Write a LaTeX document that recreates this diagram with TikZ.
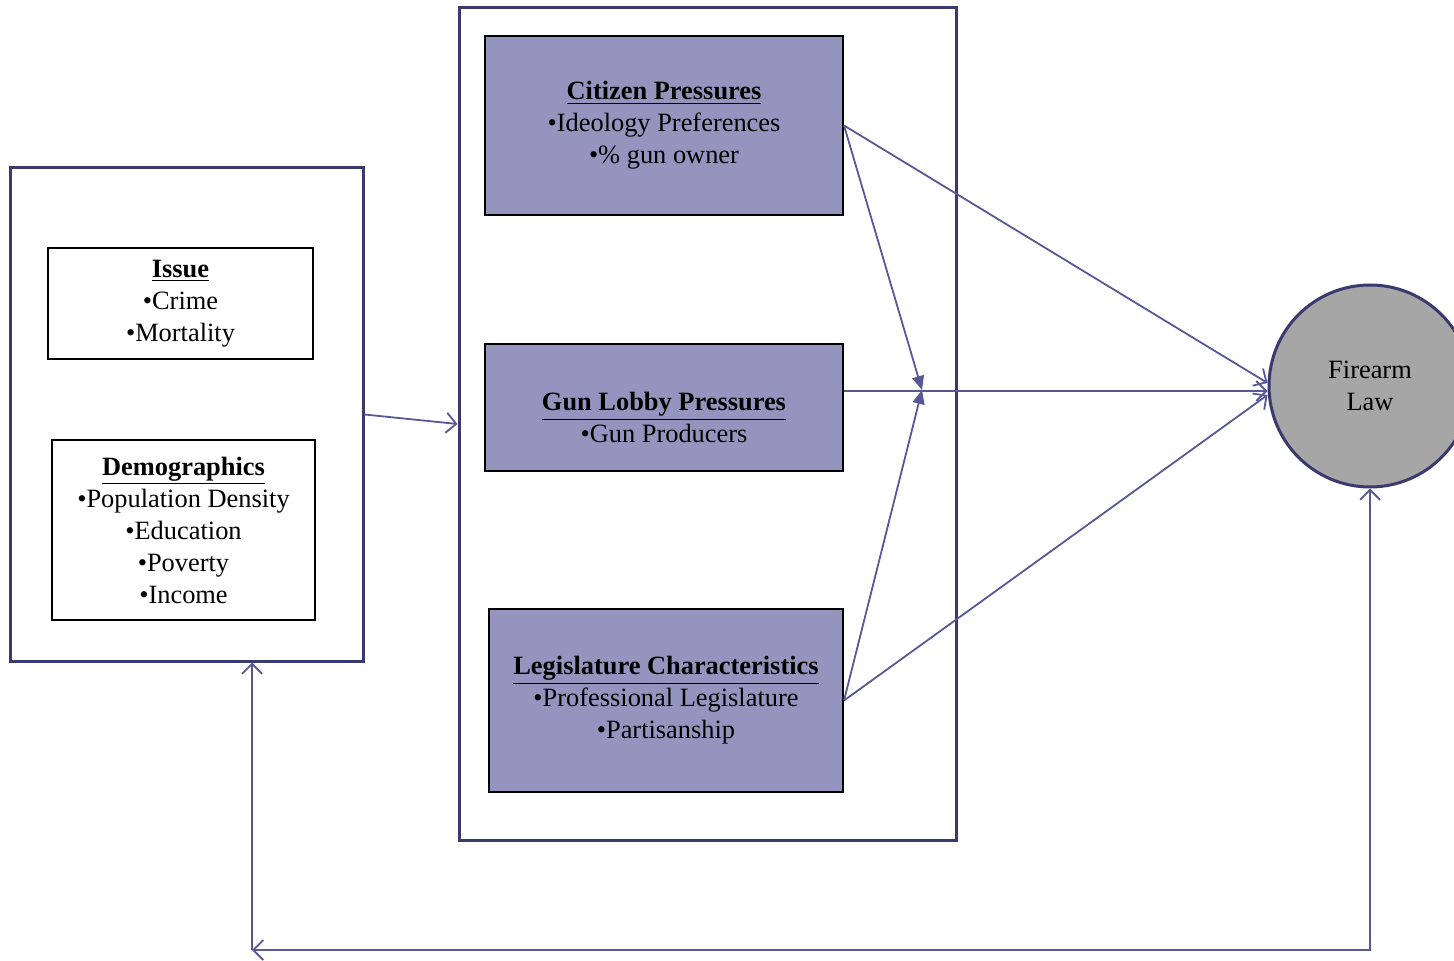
\documentclass[tikz,border=0pt]{standalone}
\usepackage{fontspec}
\setmainfont{Liberation Serif}
\usetikzlibrary{arrows.meta,positioning,calc}
\definecolor{navy}{RGB}{58,58,110}
\definecolor{linkblue}{RGB}{88,88,150}
\definecolor{panefill}{RGB}{148,148,190}
\definecolor{lawgray}{RGB}{166,166,166}
\newcommand{\hd}[1]{\underline{\textbf{#1}}}

\begin{document}
\begin{tikzpicture}[x=0.5pt, y=-0.5pt,
  >={Straight Barb[length=5pt,width=10pt]},
  frame/.style={rectangle, draw=navy, line width=1.5pt, inner sep=0pt},
  card/.style={rectangle, draw=black, line width=1pt, fill=white,
               align=center, inner sep=0pt,
               font=\fontsize{13.2}{16}\selectfont},
  pane/.style={card, fill=panefill},
  outcome/.style={circle, draw=navy, line width=1.5pt, fill=lawgray,
                  minimum size=101pt, align=center,
                  font=\fontsize{13.2}{16}\selectfont},
  link/.style={->, draw=linkblue, line width=0.9pt},
  press/.style={-{Triangle[length=7pt,width=6pt]}, draw=linkblue, line width=0.9pt}]

  \useasboundingbox (0,0) rectangle (1454,961);

  % Environment
  \node[frame, minimum width=176.5pt, minimum height=246.5pt] (env) at (186.5,414.5) {};
  \node[card, minimum width=132.5pt, minimum height=55.5pt] (issue) at (180.5,303.5)
    {\hd{Issue}\\•Crime\\•Mortality};
  \node[card, minimum width=131.5pt, minimum height=90pt] (demo) at (183.5,530)
    {\hd{Demographics}\\•Population Density\\•Education\\•Poverty\\•Income};

  % Pressures
  \node[frame, minimum width=248.5pt, minimum height=416pt] (pres) at (707.5,424) {};
  \node[pane, minimum width=179pt, minimum height=89.5pt] (citizen) at (664,125.5)
    {\hd{Citizen Pressures}\\•Ideology Preferences\\•\% gun owner};
  \node[pane, minimum width=179pt, minimum height=63.5pt,
        label={[align=center, font=\fontsize{13.2}{16}\selectfont, yshift=-5pt]center:%
               \hd{Gun Lobby Pressures}\\•Gun Producers}] (lobby) at (664,407.5) {};
  \node[pane, minimum width=177pt, minimum height=91.5pt] (legis) at (666,700.5)
    {\hd{Legislature Characteristics}\\•Professional Legislature\\•Partisanship};

  % Outcome
  \node[outcome] (law) at (1370,386) {Firearm\\Law};

  \coordinate (mod) at (922,390);
  \coordinate (loop) at (252,950);

  % Arrows
  \draw[link] (env.east) -- (pres.west);
  \draw[press] (citizen.east) -- (mod);
  \draw[press] (legis.east) -- (mod);
  \draw[link] (citizen.east) -- ([yshift=1.5pt]law.west);
  \draw[link] ([yshift=8.25pt]lobby.east) -- ([yshift=-2.5pt]law.west);
  \draw[link] (legis.east) -- ([yshift=-4.5pt]law.west);

  % Feedback
  \draw[link, <->] (law.south) |- (loop);
  \draw[link] (loop) -- (loop |- env.south);
\end{tikzpicture}
\end{document}
